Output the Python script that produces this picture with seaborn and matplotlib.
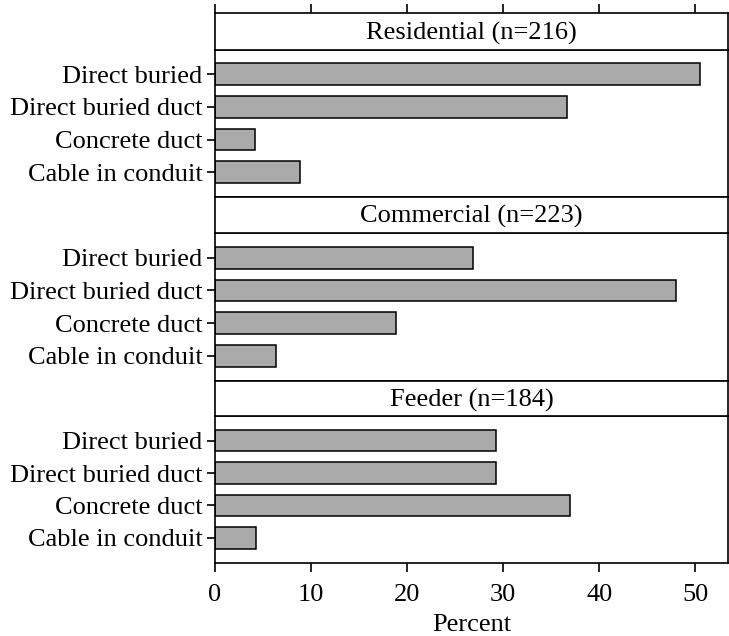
import matplotlib
matplotlib.use("Agg")
import matplotlib.pyplot as plt
import pandas as pd
import seaborn as sns

# Datos: porcentaje por tipo de instalación en cada clase de circuito
categories = ["Direct buried", "Direct buried duct", "Concrete duct", "Cable in conduit"]
panels = ["Residential (n=216)", "Commercial (n=223)", "Feeder (n=184)"]
residential = [50.5, 36.6, 4.2, 8.8]
commercial = [26.9, 48.0, 18.8, 6.3]
feeder = [29.3, 29.3, 37.0, 4.3]
xticks = [0, 10, 20, 30, 40, 50]

FS = 19

sns.set_style("ticks")
plt.rcParams["font.family"] = ["Liberation Serif", "DejaVu Serif"]
plt.rcParams["font.size"] = FS
for k in ("text.color", "axes.labelcolor", "xtick.color", "ytick.color",
          "xtick.labelcolor", "ytick.labelcolor"):
    plt.rcParams[k] = "black"

W, H = 729, 636
fig = plt.figure(figsize=(W / 100, H / 100), dpi=100)

left, right = 215, 728
# (strip top, strip bottom, panel bottom) en píxeles desde arriba
rows = [(13, 49.5, 197), (197, 233, 380.5), (380.5, 416, 562.5)]
values = [residential, commercial, feeder]
xmax = 53.4

for i, (title, vals, (st, sb, pb)) in enumerate(zip(panels, values, rows)):
    df = pd.DataFrame({"tipo": categories, "pct": vals})

    ax = fig.add_axes([left / W, 1 - pb / H, (right - left) / W, (pb - sb) / H])
    sns.barplot(data=df, x="pct", y="tipo", ax=ax, orient="h", color="#aaaaaa",
                saturation=1, width=2 / 3, edgecolor="black", linewidth=1.1)
    ax.set_xlim(0, xmax)
    ax.set_ylim(3.76, -0.76)
    ax.set_xlabel("")
    ax.set_ylabel("")
    for s in ax.spines.values():
        s.set_visible(True)
        s.set_linewidth(1.2)
        s.set_color("black")
    ax.tick_params(axis="y", length=6, width=1.2, pad=3, labelsize=FS,
                   color="black", labelcolor="black")
    ax.set_xticks(xticks)
    if i == len(panels) - 1:
        ax.tick_params(axis="x", length=6.5, width=1.2, pad=9, labelsize=FS,
                       color="black", labelcolor="black")
        ax.set_xlabel("Percent", fontsize=FS, labelpad=6, color="black")
    else:
        ax.tick_params(axis="x", bottom=False, labelbottom=False)

    # Strip con el título del panel
    sx = fig.add_axes([left / W, 1 - sb / H, (right - left) / W, (sb - st) / H])
    sx.set_xlim(0, xmax)
    sx.set_facecolor("white")
    for s in sx.spines.values():
        s.set_visible(True)
        s.set_linewidth(1.2)
        s.set_color("black")
    sx.set_yticks([])
    sx.text(0.5, 0.45, title, transform=sx.transAxes, ha="center", va="center",
            fontsize=FS, color="black")
    if i == 0:
        sx.set_xticks(xticks)
        sx.tick_params(axis="x", bottom=False, labelbottom=False, top=True,
                       labeltop=False, length=6.5, width=1.2, color="black")
    else:
        sx.set_xticks([])

fig.savefig("out.png", dpi=100, facecolor="white")
